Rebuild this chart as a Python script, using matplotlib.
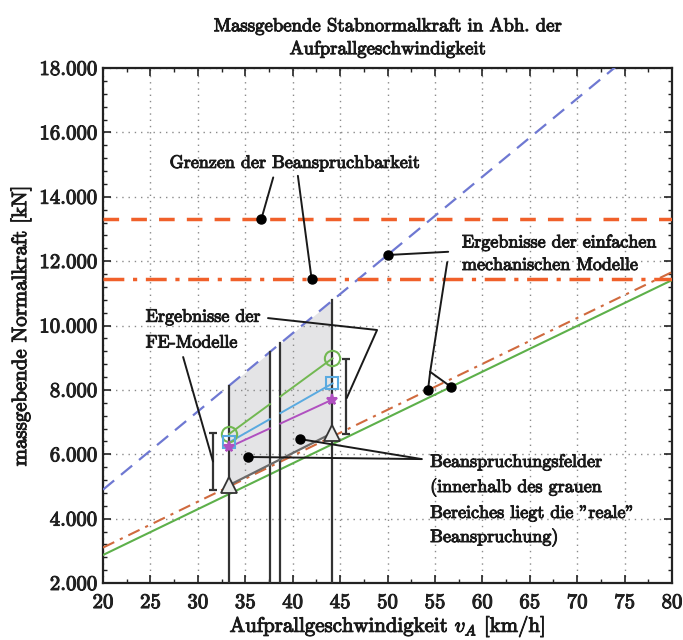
import numpy as np
import matplotlib
matplotlib.use('Agg')
import matplotlib.pyplot as plt
import matplotlib.patheffects as pe
from matplotlib.ticker import MultipleLocator, FixedLocator, FixedFormatter

plt.rcParams['font.family'] = ['cmr10', 'DejaVu Serif']
plt.rcParams['mathtext.fontset'] = 'cm'
plt.rcParams['axes.unicode_minus'] = False

# ---------------- data ----------------
v_line = [20, 80]
n_blue_dashed = [4900, 19480]
n_orange_dashdot = [3100, 11660]
n_green_solid = [2870, 11410]
n_limit_dashed = 13310
n_limit_dashdot = 11440

v_fe = [33.3, 44.2]
n_fe_circle = [6630, 8980]
n_fe_square = [6370, 8200]
n_fe_star = [6220, 7700]
n_fe_triangle = [5040, 6660]

v_field_lines = [33.3, 37.6, 38.7, 44.2]
v_gap = [37.6, 38.7]

v_errbar = [31.6, 45.6]
n_err_low = [4890, 6630]
n_err_high = [6660, 8960]

x_ticks = [20, 25, 30, 35, 40, 45, 50, 55, 60, 65, 70, 75, 80]
y_ticks = [2000, 4000, 6000, 8000, 10000, 12000, 14000, 16000, 18000]
y_tick_labels = ['2.000', '4.000', '6.000', '8.000', '10.000', '12.000',
                 '14.000', '16.000', '18.000']

title = 'Massgebende Stabnormalkraft in Abh. der\nAufprallgeschwindigkeit'
x_label = r'Aufprallgeschwindigkeit $v_A$ [km/h]'
y_label = 'massgebende Normalkraft [kN]'

TXT = '#1a1a1a'
heavy = [pe.withStroke(linewidth=0.7, foreground=TXT)]

# ---------------- figure ----------------
fig = plt.figure(figsize=(6.83, 6.40), dpi=100)
ax = fig.add_axes([103/683, 1-583/640, (672-103)/683, (583-68)/640])
ax.set_xlim(x_ticks[0], x_ticks[-1])
ax.set_ylim(y_ticks[0], y_ticks[-1])

def blue(v):
    return np.interp(v, v_line, n_blue_dashed)

def tri(v):
    return np.interp(v, v_fe, n_fe_triangle)

# grey fields
segs = [(v_fe[0], v_gap[0]), (v_gap[1], v_fe[1])]
for a, b in segs:
    xs = np.array([a, b])
    ax.fill_between(xs, tri(xs), blue(xs), color='#E4E4E6', lw=0, zorder=1)

# grid
ax.grid(True, which='major', linestyle=(0, (1, 3.5)), color='#8a8a8a', lw=1.0, zorder=1.5)

# lines
ax.plot(v_line, n_blue_dashed, color='#6E78D2', lw=1.6, ls=(0, (6.5, 4)), zorder=3)
ax.plot(v_line, n_orange_dashdot, color='#D06A3E', lw=1.5, ls=(0, (6, 3, 1.5, 3)), zorder=3)
ax.plot(v_line, n_green_solid, color='#5DB04A', lw=1.5, zorder=3)
ax.axhline(n_limit_dashed, color='#F0602A', lw=2.5, ls=(0, (4.5, 3.5)), zorder=3)
ax.axhline(n_limit_dashdot, color='#F0602A', lw=2.5, ls=(0, (6, 2.5, 1.2, 2.5)), zorder=3)

# vertical field boundaries
for v in v_field_lines:
    ax.plot([v, v], [y_ticks[0], blue(v)], color='#333333', lw=1.6, zorder=4)

# FE series (interrupted in gap)
fe_styles = [
    (n_fe_circle, '#72B852', 'o', 11, 'none'),
    (n_fe_square, '#5AAAE0', 's', 9, 'none'),
    (n_fe_star, '#B050C0', '*', 8, '#B050C0'),
]
for vals, col, mk, ms, fc in fe_styles:
    for a, b in segs:
        xs = np.array([a, b])
        ax.plot(xs, np.interp(xs, v_fe, vals), color=col, lw=1.4, zorder=5)
    ax.plot(v_fe, vals, ls='none', marker=mk, ms=ms, mfc=fc, mec=col, mew=1.5, zorder=6)

# triangle series
ax.plot(v_fe, n_fe_triangle, color='#6a6a6a', lw=1.6, zorder=5)
ax.plot(v_fe, n_fe_triangle, ls='none', marker='^', ms=11, mfc='#EAEAEA', mec='#333333',
        mew=1.3, zorder=6)

# error bars
mid = [(lo + hi) / 2 for lo, hi in zip(n_err_low, n_err_high)]
half = [(hi - lo) / 2 for lo, hi in zip(n_err_low, n_err_high)]
ax.errorbar(v_errbar, mid, yerr=half, fmt='none', ecolor='#333333', elinewidth=1.6,
            capsize=3.2, capthick=1.6, zorder=5)

# ---------------- annotations ----------------
K = dict(color='#1a1a1a', lw=1.4, zorder=7, solid_capstyle='round')
D = dict(ls='none', marker='o', ms=6.5, color='black', zorder=8)
fs_ann = 13

def atext(x, y, s):
    ax.text(x, y, s, ha='left', va='center', fontsize=fs_ann, color=TXT, zorder=9,
            path_effects=heavy)

# Grenzen der Beanspruchbarkeit
ax.text(40.25, 15050, 'Grenzen der Beanspruchbarkeit', ha='center', va='center',
        fontsize=fs_ann, color=TXT, zorder=9, path_effects=heavy)
d1 = (36.7, n_limit_dashed)
d2 = (42.0, n_limit_dashdot)
ax.plot([37.95, d1[0]], [14600, d1[1]], **K)
ax.plot([40.55, d2[0]], [14650, d2[1]], **K)
ax.plot([d1[0], d2[0]], [d1[1], d2[1]], **D)

# Ergebnisse der einfachen mechanischen Modelle
atext(57.85, 12580, 'Ergebnisse der einfachen')
atext(57.85, 11870, 'mechanischen Modelle')
e1 = (50.0, float(blue(50.0)))
e2 = (54.27, float(np.interp(54.27, v_line, n_orange_dashdot)))
e3 = (56.7, float(np.interp(56.7, v_line, n_green_solid)))
ax.plot([e1[0], 56.4], [e1[1], 12290], **K)
ax.plot([56.3, 54.5], [11970, 8560], **K)
ax.plot([54.5, e2[0]], [8560, e2[1]], **K)
ax.plot([54.5, e3[0]], [8560, e3[1]], **K)
ax.plot([e1[0], e2[0], e3[0]], [e1[1], e2[1], e3[1]], **D)

# Ergebnisse der FE-Modelle
atext(24.5, 10270, 'Ergebnisse der')
atext(24.5, 9460, 'FE-Modelle')
ax.plot([37.4, 48.9, v_errbar[1] + 0.1], [10230, 9860, mid[1] - 50], **K)
ax.plot([28.45, v_errbar[0]], [9020, mid[0]], **K)

# Beanspruchungsfelder
bf_lines = ['Beanspruchungsfelder', '(innerhalb des grauen',
            'Bereiches liegt die "reale"', 'Beanspruchung)']
bf_y = [5760, 4980, 4175, 3400]
for s, yy in zip(bf_lines, bf_y):
    atext(54.5, yy, s)
b1 = (35.3, 5915)
b2 = (40.8, 6470)
ax.plot([b1[0], 53.6], [b1[1], 5850], **K)
ax.plot([b2[0], 53.6], [b2[1], 5850], **K)
ax.plot([b1[0], b2[0]], [b1[1], b2[1]], **D)

# ---------------- axes styling ----------------
ax.xaxis.set_major_locator(FixedLocator(x_ticks))
ax.yaxis.set_major_locator(FixedLocator(y_ticks))
ax.yaxis.set_major_formatter(FixedFormatter(y_tick_labels))
ax.xaxis.set_minor_locator(MultipleLocator(2.5))
ax.yaxis.set_minor_locator(MultipleLocator(400))
ax.tick_params(which='both', direction='in', top=True, right=True, colors='#222222')
ax.tick_params(which='major', length=6, width=1.2, labelsize=15)
ax.tick_params(which='minor', length=3, width=1.0)
ax.tick_params(axis='x', which='major', pad=8)
ax.tick_params(axis='y', which='major', pad=4)
for lab in ax.get_xticklabels() + ax.get_yticklabels():
    lab.set_path_effects(heavy)
for sp in ax.spines.values():
    sp.set_linewidth(1.6)
    sp.set_color('#222222')

ax.set_xlabel(x_label, fontsize=15, labelpad=2, color=TXT, path_effects=heavy)
ax.set_ylabel(y_label, fontsize=15, labelpad=6, color=TXT, path_effects=heavy)
ax.set_title(title, fontsize=13.5, pad=10, color=TXT, linespacing=1.35, path_effects=heavy)

fig.savefig('out.png', dpi=100)
